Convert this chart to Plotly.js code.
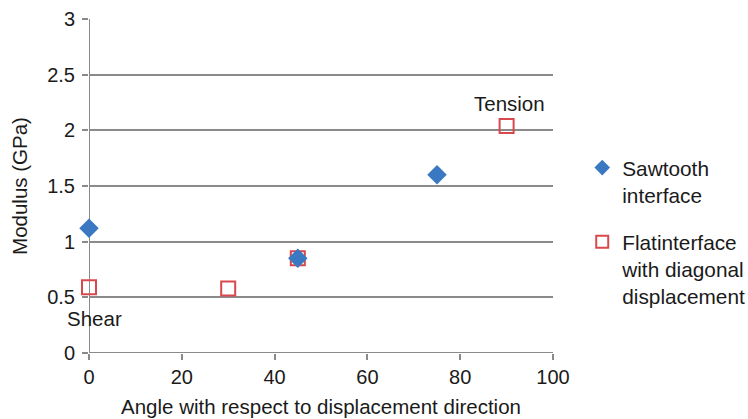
<!DOCTYPE html>
<html><head><meta charset="utf-8">
<script src="https://cdn.plot.ly/plotly-3.0.1.min.js"></script>
<style>body{margin:0;background:#fff}#c{width:748px;height:419px}</style>
</head><body><div id="c"></div>
<script>
const sawX = [0, 45, 75];
const sawY = [1.12, 0.85, 1.6];
const flatX = [0, 30, 45, 90];
const flatY = [0.59, 0.58, 0.85, 2.04];
const sawName = 'Sawtooth<br>interface';
const flatName = 'Flatinterface<br>with diagonal<br>displacement';
const xTitle = 'Angle with respect to displacement direction';
const yTitle = 'Modulus (GPa)';

const fam = 'Liberation Sans, Arial, sans-serif';
const font = {family: fam, size: 20.5, color: '#1a1a1a'};
const legFont = {family: fam, size: 20.8, color: '#1a1a1a'};
const tickFont = {family: fam, size: 20, color: '#1a1a1a'};
const traces = [
  {x: flatX, y: flatY, name: flatName, legendgroup: 'flat', legendrank: 2, mode: 'markers', type: 'scatter', cliponaxis: false,
   marker: {symbol: 'square-open', size: 14, color: '#d8484c', line: {width: 2, color: '#d8484c'}}},
  {x: sawX, y: sawY, name: sawName, legendgroup: 'saw', legendrank: 1, mode: 'markers', type: 'scatter', cliponaxis: false,
   marker: {symbol: 'diamond', size: 15, color: '#3a78c2'}}
];
const layout = {
  width: 748, height: 419,
  margin: {l: 89, r: 195, t: 19, b: 66, autoexpand: false},
  paper_bgcolor: '#fff', plot_bgcolor: '#fff',
  font: font,
  showlegend: true,
  legend: {x: 1.063, y: 0.615, xanchor: 'left', yanchor: 'top', traceorder: 'grouped',
           font: legFont, tracegroupgap: 17, valign: 'top', itemsizing: 'constant'},
  xaxis: {range: [0, 100], dtick: 20, showgrid: false, zeroline: false, showline: false,
          ticks: 'outside', ticklen: 6, tickcolor: '#8a8a8a', tickwidth: 1.5,
          title: {text: xTitle, font: font, standoff: 12}, tickfont: tickFont},
  yaxis: {range: [0, 3], dtick: 0.5, showgrid: true, gridcolor: '#8a8a8a', gridwidth: 2,
          zeroline: false, showline: false, ticks: 'outside', ticklen: 6, tickcolor: '#8a8a8a', tickwidth: 1.5,
          ticklabelstandoff: 3,
          title: {text: yTitle, font: font, standoff: 14}, tickfont: tickFont},
  shapes: [
    {type: 'line', xref: 'x', yref: 'paper', x0: 0, x1: 0, y0: 0, y1: 1, layer: 'below', line: {color: '#8a8a8a', width: 2}},
    {type: 'line', xref: 'paper', yref: 'y', x0: 0, x1: 1, y0: 0, y1: 0, layer: 'below', line: {color: '#8a8a8a', width: 2}}
  ],
  annotations: [
    {x: 90, y: 2.04, xref: 'x', yref: 'y', text: 'Tension', showarrow: false, yshift: 22, xshift: 3, font: font},
    {x: 0, y: 0.5, xref: 'x', yref: 'y', text: 'Shear', showarrow: false, xanchor: 'left', xshift: -24, yshift: -21, font: font}
  ]
};
Plotly.newPlot('c', traces, layout, {displayModeBar: false});
</script></body></html>
